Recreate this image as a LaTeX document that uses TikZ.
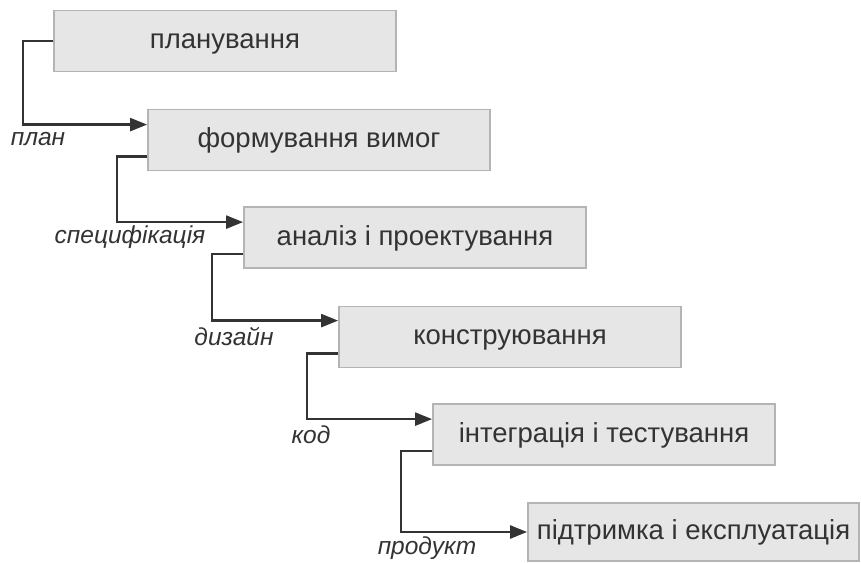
\documentclass[tikz,border=0pt]{standalone}
\usepackage{fontspec}
\setmainfont{Liberation Sans}
\usetikzlibrary{arrows.meta}
\definecolor{boxfill}{HTML}{E6E6E6}
\definecolor{boxline}{HTML}{B4B4B4}
\definecolor{ink}{HTML}{333333}
\begin{document}
\begin{tikzpicture}[x=1pt,y=-1pt,
  stage/.style={draw=boxline,line width=1.8pt,fill=boxfill,minimum width=342pt,minimum height=61pt,inner sep=0pt,text height=19pt,text depth=4pt,font=\fontsize{27.5}{31}\selectfont,text=ink},
  conn/.style={draw=ink,line width=2.4pt,-{Triangle[length=17pt,width=13pt]}},
  lbl/.style={font=\fontsize{24.5}{28}\selectfont\itshape,text=ink,inner sep=0pt}]
\useasboundingbox[fill=white] (0,0) rectangle (861,562);
\node[stage] (b1) at (225,41) {планування};
\node[stage] (b2) at (319,140) {формування вимог};
\node[stage] (b3) at (415,237.5) {аналіз і проектування};
\node[stage] (b4) at (510,337) {конструювання};
\node[stage] (b5) at (604,434.5) {інтеграція і тестування};
\node[stage,minimum width=331pt,minimum height=58pt] (b6) at (693.5,532) {підтримка і експлуатація};
\draw[conn] (b1.west) -- ++(-30,0) |- ([yshift=-16pt]b2.north west);
\draw[conn] ([yshift=15pt]b2.south west) -- ++(-30,0) |- ([yshift=-16pt]b3.north west);
\draw[conn] ([yshift=15pt]b3.south west) -- ++(-31,0) |- ([yshift=-15pt]b4.north west);
\draw[conn] ([yshift=15pt]b4.south west) -- ++(-31,0) |- ([yshift=-16pt]b5.north west);
\draw[conn] ([yshift=15pt]b5.south west) -- ++(-31,0) |- (b6.west);
\node[lbl] (l1) at (38,139) {план};
\node[lbl] (l2) at (130,237) {специфікація};
\node[lbl] (l3) at (234,337) {дизайн};
\node[lbl] (l4) at (311,435) {код};
\node[lbl] (l5) at (427,548) {продукт};
\end{tikzpicture}
\end{document}
